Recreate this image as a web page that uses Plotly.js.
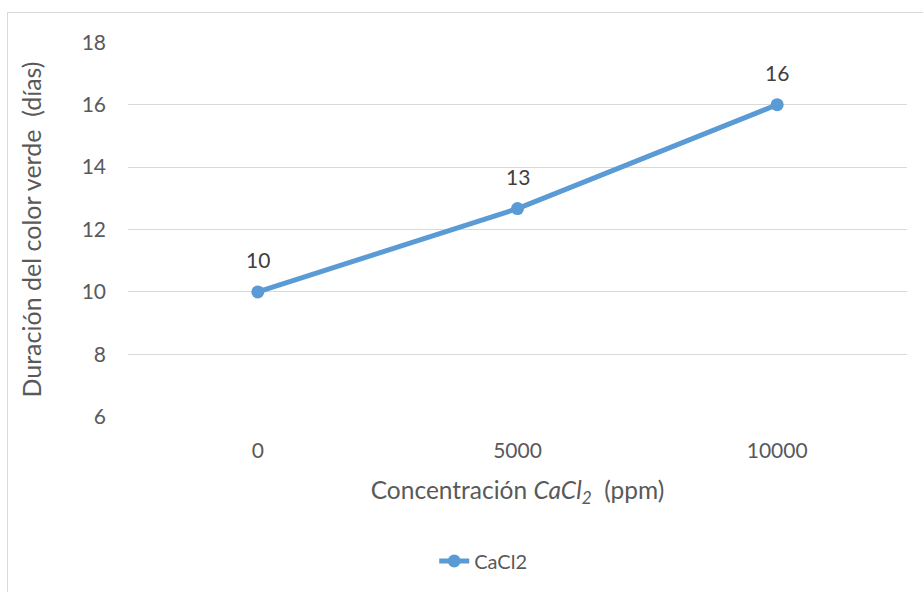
<!DOCTYPE html>
<html>
<head>
<meta charset="utf-8">
<script src="https://cdn.plot.ly/plotly-3.0.1.min.js"></script>
<style>
  html, body { margin: 0; padding: 0; background: #fff; }
  #wrap { position: relative; width: 923px; height: 592px; overflow: hidden; }
  #chart { width: 923px; height: 592px; }
  #frame { position: absolute; left: 7px; top: 12px; width: 940px; height: 600px;
           border-left: 1px solid #d9d9d9; border-top: 1px solid #d9d9d9; pointer-events: none; }
</style>
</head>
<body>
<div id="wrap">
  <div id="chart"></div>
  <div id="frame"></div>
</div>
<script>
const categories = ["0", "5000", "10000"];
const cacl2Values = [10, 12.67, 16];
const dataLabels = ["10", "13", "16"];
const seriesName = "CaCl2";
const yTicks = [6, 8, 10, 12, 14, 16, 18];

const blue = "#5b9bd5";
const textGray = "#595959";
const font = "Lato, 'Open Sans', sans-serif";

const trace = {
  x: categories,
  y: cacl2Values,
  type: "scatter",
  mode: "lines+markers",
  name: seriesName,
  line: { color: blue, width: 5 },
  marker: { color: blue, size: 13 },
  hoverinfo: "x+y"
};

const annotations = categories.map((c, i) => ({
  x: i, y: cacl2Values[i], xref: "x", yref: "y",
  text: dataLabels[i], showarrow: false,
  yshift: 32, xanchor: "center", yanchor: "middle",
  font: { family: font, size: 21, color: "#404040" }
}));

const layout = {
  width: 923, height: 592,
  margin: { l: 128, r: 16, t: 42, b: 172 },
  paper_bgcolor: "#fff", plot_bgcolor: "#fff",
  font: { family: font, color: textGray, size: 20 },
  showlegend: true,
  legend: {
    orientation: "h", x: 0.456, xanchor: "center", y: -0.384, yanchor: "middle",
    font: { family: font, size: 20, color: textGray }
  },
  xaxis: {
    type: "category",
    range: [-0.5, 2.5],
    showgrid: false, zeroline: false, showline: false,
    ticks: "", ticklen: 0,
    ticklabelstandoff: 19,
    tickfont: { family: font, size: 21, color: textGray },
    title: { text: "Concentración <i>CaCl<sub>2</sub></i>  (ppm)", standoff: 20,
             font: { family: font, size: 24.5, color: textGray } }
  },
  yaxis: {
    range: [5.99, 18.01],
    tickvals: yTicks,
    showgrid: true, gridcolor: "#d9d9d9", gridwidth: 1,
    zeroline: false, showline: false, ticks: "",
    ticklabelstandoff: 21,
    tickfont: { family: font, size: 21, color: textGray },
    title: { text: "Duración del color verde  (días)", standoff: 32,
             font: { family: font, size: 25, color: textGray } }
  },
  annotations: annotations
};

Plotly.newPlot("chart", [trace], layout, { displayModeBar: false, staticPlot: true });
</script>
</body>
</html>
